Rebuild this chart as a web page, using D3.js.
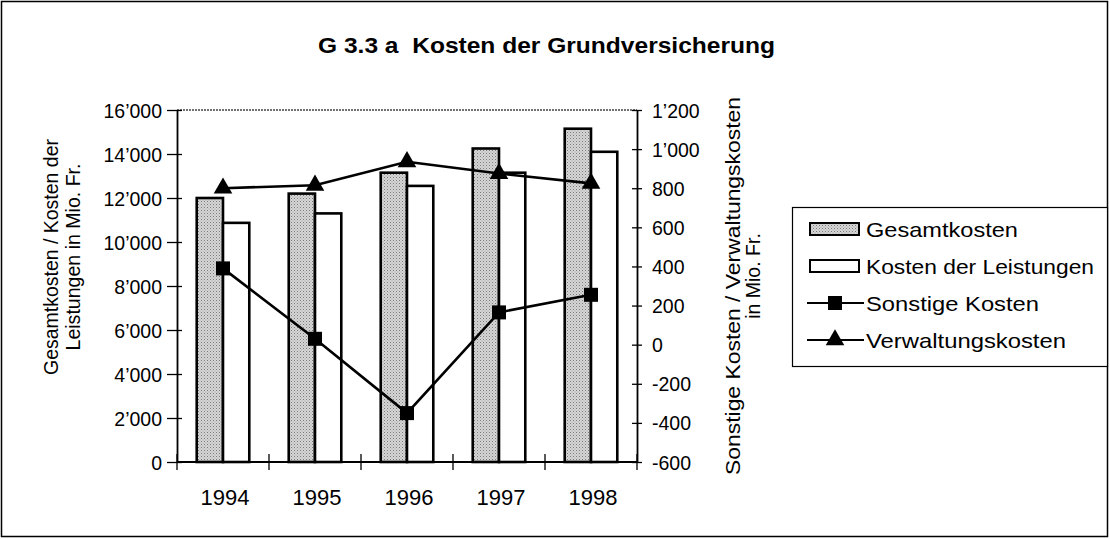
<!DOCTYPE html>
<html><head><meta charset="utf-8">
<script src="https://cdn.jsdelivr.net/npm/d3@7"></script>
<style>body{margin:0;background:#fff}svg{display:block}text{font-family:"Liberation Sans",Arial,sans-serif}</style>
</head><body>
<svg id="c" width="1110" height="539"></svg>
<script>
const years = ["1994","1995","1996","1997","1998"];
const gesamtkosten = [12000, 12200, 13150, 14250, 15150];
const kostenLeistungen = [10870, 11300, 12550, 13150, 14100];
const sonstigeKosten = [390, 30, -350, 165, 255];
const verwaltungskosten = [800, 815, 935, 875, 825];
const leftTicks = [0,2000,4000,6000,8000,10000,12000,14000,16000];
const rightTicks = [-600,-400,-200,0,200,400,600,800,1000,1200];
const seriesNames = ["Gesamtkosten","Kosten der Leistungen","Sonstige Kosten","Verwaltungskosten"];

const svg = d3.select("#c");
const fmt = v => { const s = Math.abs(v).toString().replace(/\B(?=(\d{3})+(?!\d))/g, "\u2019"); return (v<0?"-":"")+s; };

const defs = svg.append("defs");
const pat = defs.append("pattern").attr("id","dots").attr("width",3).attr("height",3).attr("patternUnits","userSpaceOnUse");
pat.append("rect").attr("width",3).attr("height",3).attr("fill","#d6d6d6");
pat.append("rect").attr("x",0).attr("y",0).attr("width",1).attr("height",1).attr("fill","#7a7a7a");
pat.append("rect").attr("x",1.5).attr("y",1.5).attr("width",1).attr("height",1).attr("fill","#a0a0a0");

svg.append("rect").attr("x",1.5).attr("y",1.5).attr("width",1106).attr("height",535).attr("fill","none").attr("stroke","#000").attr("stroke-width",1.5);

svg.append("text").attr("x",318).attr("y",53).attr("font-size",22).attr("font-weight","bold")
  .attr("textLength",457).attr("lengthAdjust","spacingAndGlyphs").text("G 3.3 a\u00a0 Kosten der Grundversicherung");

const L=177, R=637, T=110, B=462;
const x = d3.scaleBand().domain(years).range([L,R]);
const yL = d3.scaleLinear().domain([0,16000]).range([B,T]);
const yR = d3.scaleLinear().domain([-600,1200]).range([B,T]);
const bw = x.bandwidth()/3.5;
const gap = x.bandwidth()*0.75/3.5;

svg.append("line").attr("x1",L).attr("x2",R).attr("y1",T).attr("y2",T).attr("stroke","#444").attr("stroke-width",1.3).attr("stroke-dasharray","2,1");

svg.append("g").selectAll("rect").data(years).join("rect")
  .attr("x",d=>x(d)+gap).attr("y",(d,i)=>yL(gesamtkosten[i])).attr("width",bw).attr("height",(d,i)=>B-yL(gesamtkosten[i]))
  .attr("fill","url(#dots)").attr("stroke","#000").attr("stroke-width",2.6);
svg.append("g").selectAll("rect").data(years).join("rect")
  .attr("x",d=>x(d)+gap+bw).attr("y",(d,i)=>yL(kostenLeistungen[i])).attr("width",bw).attr("height",(d,i)=>B-yL(kostenLeistungen[i]))
  .attr("fill","#fff").attr("stroke","#000").attr("stroke-width",2.6);

const axL = d3.axisLeft(yL).tickValues(leftTicks).tickFormat(fmt).tickSizeInner(10).tickSizeOuter(0).tickPadding(5);
const gL = svg.append("g").attr("transform",`translate(${L},0)`).call(axL);
const axR = d3.axisRight(yR).tickValues(rightTicks).tickFormat(fmt).tickSizeInner(5).tickSizeOuter(0).tickPadding(10);
const gR = svg.append("g").attr("transform",`translate(${R},0)`).call(axR);
const xb = d3.scalePoint().domain(d3.range(6)).range([L,R]);
const gX = svg.append("g").attr("transform",`translate(0,${B})`);
gX.append("line").attr("x1",L).attr("x2",R).attr("stroke","#000").attr("stroke-width",1.8);
gX.selectAll("line.t").data(d3.range(6)).join("line").attr("class","t").attr("x1",d=>xb(d)).attr("x2",d=>xb(d)).attr("y1",-8).attr("y2",8).attr("stroke","#000").attr("stroke-width",1.3);
gX.selectAll("text").data(years).join("text").attr("x",d=>x(d)+x.bandwidth()/2+2).attr("y",43).attr("text-anchor","middle").attr("font-size",22).text(d=>d);
[gL,gR].forEach(g=>{
  g.selectAll(".domain").attr("stroke-width",1.8);
  g.selectAll(".tick line").attr("stroke-width",1.3);
  g.selectAll(".tick text").attr("font-size",19.5).attr("font-family","Liberation Sans, Arial, sans-serif").attr("dy","0.36em");
});
gL.selectAll(".tick line").attr("x1",5).attr("x2",-10);
gR.selectAll(".tick line").attr("x1",-5).attr("x2",5);

const cx = d => x(d)+x.bandwidth()/2;
const lineS = d3.line().x((d,i)=>cx(years[i])).y(d=>yR(d));
svg.append("path").attr("d",lineS(sonstigeKosten)).attr("fill","none").attr("stroke","#000").attr("stroke-width",2.6);
svg.append("path").attr("d",lineS(verwaltungskosten)).attr("fill","none").attr("stroke","#000").attr("stroke-width",2.6);
svg.append("g").selectAll("rect").data(sonstigeKosten).join("rect")
  .attr("x",(d,i)=>cx(years[i])-7).attr("y",d=>yR(d)-7).attr("width",14).attr("height",14).attr("fill","#000");
const tri = d3.symbol().type(d3.symbolTriangle).size(150);
svg.append("g").selectAll("path").data(verwaltungskosten).join("path")
  .attr("d",tri).attr("transform",(d,i)=>`translate(${cx(years[i])},${yR(d)})`).attr("fill","#000");

// axis titles
svg.append("text").attr("transform","translate(58,257) rotate(-90)").attr("text-anchor","middle").attr("font-size",19.5)
  .attr("textLength",236).attr("lengthAdjust","spacingAndGlyphs").text("Gesamtkosten / Kosten der");
svg.append("text").attr("transform","translate(80,257) rotate(-90)").attr("text-anchor","middle").attr("font-size",19.5)
  .attr("textLength",187).attr("lengthAdjust","spacingAndGlyphs").text("Leistungen in Mio. Fr.");
svg.append("text").attr("transform","translate(740,286) rotate(-90)").attr("text-anchor","middle").attr("font-size",19.5)
  .attr("textLength",378).attr("lengthAdjust","spacingAndGlyphs").text("Sonstige Kosten / Verwaltungskosten");
svg.append("text").attr("transform","translate(760,276) rotate(-90)").attr("text-anchor","middle").attr("font-size",19.5)
  .text("in Mio. Fr.");

// legend
const lg = svg.append("g");
lg.append("rect").attr("x",792.5).attr("y",207.5).attr("width",315).attr("height",159).attr("fill","#fff").attr("stroke","#000").attr("stroke-width",1.2);
const ly = [229,266,303,340];
const legW = [152,228,173,200];
lg.append("rect").attr("x",810).attr("y",ly[0]-6).attr("width",49).attr("height",12).attr("fill","url(#dots)").attr("stroke","#000").attr("stroke-width",2);
lg.append("rect").attr("x",810).attr("y",ly[1]-6).attr("width",49).attr("height",12).attr("fill","#fff").attr("stroke","#000").attr("stroke-width",2);
[2,3].forEach(k=>lg.append("line").attr("x1",807).attr("x2",864).attr("y1",ly[k]).attr("y2",ly[k]).attr("stroke","#000").attr("stroke-width",2.2));
lg.append("rect").attr("x",828).attr("y",ly[2]-7).attr("width",14).attr("height",14).attr("fill","#000");
lg.append("path").attr("d",tri).attr("transform",`translate(835,${ly[3]})`).attr("fill","#000");
lg.selectAll("text.l").data(seriesNames).join("text").attr("class","l").attr("x",866).attr("y",(d,i)=>ly[i]).attr("dy","0.36em").attr("font-size",21)
  .attr("textLength",(d,i)=>legW[i]).attr("lengthAdjust","spacingAndGlyphs").text(d=>d);
</script>
</body></html>
